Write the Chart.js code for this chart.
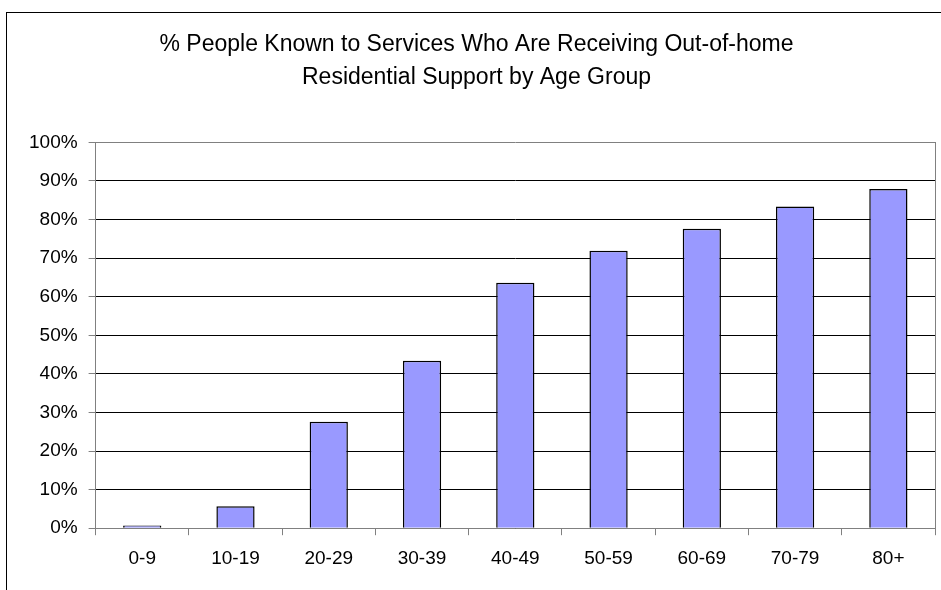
<!DOCTYPE html>
<html>
<head>
<meta charset="utf-8">
<script src="https://cdn.jsdelivr.net/npm/chart.js@4"></script>
<style>
  html, body { margin: 0; padding: 0; background: #fff; overflow: hidden; }
  #wrap { position: absolute; left: 0; top: 0; width: 941px; height: 590px; }
  #frame { position: absolute; left: 6px; top: 12px; width: 1000px; height: 1000px;
           border: 1px solid #000; pointer-events: none; }
</style>
</head>
<body>
<div id="wrap"><canvas id="ageChart"></canvas></div>
<div id="frame"></div>
<script>
const ageGroups = ['0-9', '10-19', '20-29', '30-39', '40-49', '50-59', '60-69', '70-79', '80+'];
const pctResidential = [0.7, 5.7, 27.6, 43.4, 63.6, 71.9, 77.6, 83.4, 87.9];
const titleLines = ['% People Known to Services Who Are Receiving Out-of-home',
                    'Residential Support by Age Group'];

Chart.defaults.font.family = '"Liberation Sans", Arial, sans-serif';
Chart.defaults.color = '#000';

new Chart(document.getElementById('ageChart'), {
    type: 'bar',
    data: {
        labels: ageGroups,
        datasets: [{
            data: pctResidential,
            backgroundColor: '#9999FF',
            borderColor: '#000',
            borderWidth: 1.5,
            barPercentage: 0.41,
            categoryPercentage: 1.0
        }]
    },
    options: {
        responsive: true,
        maintainAspectRatio: false,
        animation: false,
        layout: { padding: { left: 18, right: 6, top: 0, bottom: 8 } },
        plugins: {
            legend: { display: false },
            tooltip: { enabled: false },
            title: {
                display: true,
                text: titleLines,
                color: '#000',
                font: { size: 23, weight: 'normal', lineHeight: 1.4 },
                padding: { top: 29, bottom: 49 }
            }
        },
        scales: {
            x: {
                grid: { drawOnChartArea: false, drawTicks: true, tickLength: 7, color: '#808080', offset: true },
                border: { color: '#808080', width: 1 },
                ticks: { font: { size: 19 }, padding: 12, color: '#000' }
            },
            y: {
                min: 0,
                max: 100,
                ticks: {
                    stepSize: 10,
                    font: { size: 19 },
                    padding: 11,
                    color: '#000',
                    callback: v => v + '%'
                },
                grid: {
                    tickLength: 7,
                    color: ctx => (ctx.tick && ctx.tick.value === 100) ? '#808080' : '#000',
                    tickColor: '#808080',
                    lineWidth: 1
                },
                border: { color: '#808080', width: 1 }
            },
            yRight: {
                position: 'right',
                min: 0,
                max: 100,
                ticks: { display: false },
                grid: { drawOnChartArea: false, drawTicks: false },
                border: { color: '#808080', width: 1 }
            }
        }
    }
});
</script>
</body>
</html>
